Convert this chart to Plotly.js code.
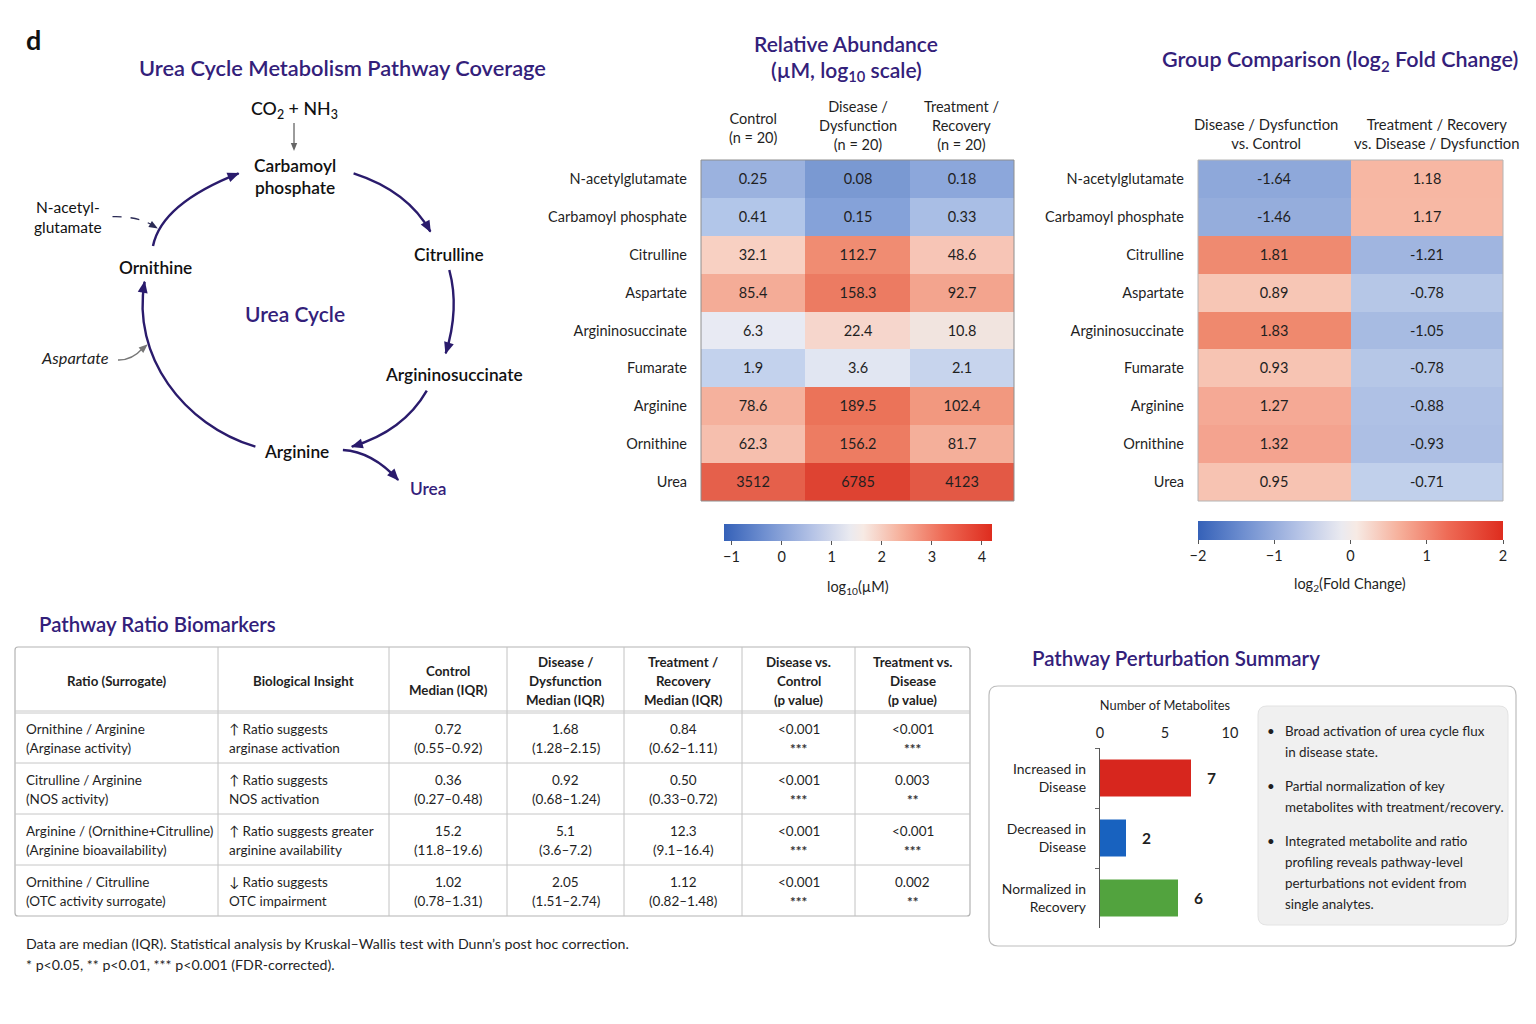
<!DOCTYPE html>
<html><head><meta charset="utf-8">
<script src="https://cdn.plot.ly/plotly-3.0.1.min.js"></script>
<style>html,body{margin:0;padding:0;background:#fff;}#chart{width:1536px;height:1024px;}</style>
</head><body><div id="chart"></div>
<script>
// ---------------- DATA ----------------
const metabolites = ['N-acetylglutamate','Carbamoyl phosphate','Citrulline','Aspartate','Argininosuccinate','Fumarate','Arginine','Ornithine','Urea'];
const groupKeys = ['Control','Disease','Treatment'];
const groupHeaders = ['Control<br>(n = 20)','Disease /<br>Dysfunction<br>(n = 20)','Treatment /<br>Recovery<br>(n = 20)'];
const controlUM   = [0.25, 0.41, 32.1, 85.4, 6.3, 1.9, 78.6, 62.3, 3512];
const diseaseUM   = [0.08, 0.15, 112.7, 158.3, 22.4, 3.6, 189.5, 156.2, 6785];
const treatmentUM = [0.18, 0.33, 48.6, 92.7, 10.8, 2.1, 102.4, 81.7, 4123];

const fcKeys = ['DvsC','TvsD'];
const fcHeaders = ['Disease / Dysfunction<br>vs. Control','Treatment / Recovery<br>vs. Disease / Dysfunction'];
const fcDiseaseVsControl = [-1.64, -1.46, 1.81, 0.89, 1.83, 0.93, 1.27, 1.32, 0.95];
const fcTreatVsDisease   = [1.18, 1.17, -1.21, -0.78, -1.05, -0.78, -0.88, -0.93, -0.71];

const tableHeaders = ['Ratio (Surrogate)','Biological Insight','Control<br>Median (IQR)','Disease /<br>Dysfunction<br>Median (IQR)','Treatment /<br>Recovery<br>Median (IQR)','Disease vs.<br>Control<br>(p value)','Treatment vs.<br>Disease<br>(p value)'];
const ratioNames = ['Ornithine / Arginine','Citrulline / Arginine','Arginine / (Ornithine+Citrulline)','Ornithine / Citrulline'];
const ratioSurrogates = ['Arginase activity','NOS activity','Arginine bioavailability','OTC activity surrogate'];
const insightLine1 = ['↑ Ratio suggests','↑ Ratio suggests','↑ Ratio suggests greater','↓ Ratio suggests'];
const insightLine2 = ['arginase activation','NOS activation','arginine availability','OTC impairment'];
const controlMedian = ['0.72','0.36','15.2','1.02'];
const controlIQR    = ['0.55–0.92','0.27–0.48','11.8–19.6','0.78–1.31'];
const diseaseMedian = ['1.68','0.92','5.1','2.05'];
const diseaseIQR    = ['1.28–2.15','0.68–1.24','3.6–7.2','1.51–2.74'];
const treatMedian   = ['0.84','0.50','12.3','1.12'];
const treatIQR      = ['0.62–1.11','0.33–0.72','9.1–16.4','0.82–1.48'];
const pDiseaseVsControl = ['<0.001','<0.001','<0.001','<0.001'];
const starsDiseaseVsControl = ['***','***','***','***'];
const pTreatVsDisease = ['<0.001','0.003','<0.001','0.002'];
const starsTreatVsDisease = ['***','**','***','**'];

const summaryCats = ['Increased in<br>Disease','Decreased in<br>Disease','Normalized in<br>Recovery'];
const summaryCounts = [7, 2, 6];
const summaryColors = ['#d7261e','#1862bf','#52a33e'];
const summaryBullets = [
  ['Broad activation of urea cycle flux','in disease state.'],
  ['Partial normalization of key','metabolites with treatment/recovery.'],
  ['Integrated metabolite and ratio','profiling reveals pathway-level','perturbations not evident from','single analytes.']
];

// ---------------- HELPERS ----------------
const W = 1536, H = 1024;
const X = v => v / W, Y = v => 1 - v / H;
const FONT = 'Lato, "Noto Sans", sans-serif';
const PURPLE = '#33207a';
const INK = '#2a1b6c';
const TXT = '#1f1f1f';

function toPath(segs) {
  return segs.map(s => {
    let out = s[0];
    const n = s.slice(1);
    for (let i = 0; i < n.length; i += 2) out += (i ? ' ' : '') + X(n[i]).toFixed(5) + ',' + Y(n[i + 1]).toFixed(5);
    return out;
  }).join(' ');
}
function arrowHead(tip, from, len, hw, color) {
  let dx = tip[0] - from[0], dy = tip[1] - from[1];
  const L = Math.hypot(dx, dy); dx /= L; dy /= L;
  const bx = tip[0] - dx * len, by = tip[1] - dy * len;
  const px = -dy, py = dx;
  return {type: 'path', xref: 'paper', yref: 'paper', layer: 'above',
    path: toPath([['M', tip[0] + dx, tip[1] + dy], ['L', bx + px * hw, by + py * hw], ['L', bx - px * hw, by - py * hw], ['Z']]),
    fillcolor: color, line: {width: 0}};
}
function curve(segs, color, width, dash) {
  return {type: 'path', xref: 'paper', yref: 'paper', layer: 'above', path: toPath(segs),
    line: {color: color, width: width, dash: dash || 'solid'}};
}
function hline(x0, x1, y, color, w) {
  return {type: 'line', xref: 'paper', yref: 'paper', x0: X(x0), x1: X(x1), y0: Y(y), y1: Y(y), line: {color: color, width: w}, layer: 'above'};
}
function vline(x, y0, y1, color, w) {
  return {type: 'line', xref: 'paper', yref: 'paper', x0: X(x), x1: X(x), y0: Y(y0), y1: Y(y1), line: {color: color, width: w}, layer: 'above'};
}
function roundRect(x0, y0, x1, y1, r, line, fill, lw) {
  return {type: 'path', xref: 'paper', yref: 'paper', layer: 'below',
    path: toPath([['M', x0 + r, y0], ['L', x1 - r, y0], ['Q', x1, y0, x1, y0 + r], ['L', x1, y1 - r], ['Q', x1, y1, x1 - r, y1],
      ['L', x0 + r, y1], ['Q', x0, y1, x0, y1 - r], ['L', x0, y0 + r], ['Q', x0, y0, x0 + r, y0], ['Z']]),
    line: {color: line, width: lw}, fillcolor: fill};
}
function txt(x, y, text, opts) {
  opts = opts || {};
  return {xref: 'paper', yref: 'paper', x: X(x), y: Y(y), text: text, showarrow: false,
    xanchor: opts.xanchor || 'center', yanchor: 'middle',
    font: {family: FONT, size: opts.size || 14, color: opts.color || TXT, weight: opts.weight || 400, style: opts.style || 'normal'}};
}

// ---------------- HEATMAP MATRICES ----------------
const abundanceZ = metabolites.map((m, i) => [controlUM[i], diseaseUM[i], treatmentUM[i]].map(v => Math.log10(v)));
const abundanceT = metabolites.map((m, i) => [controlUM[i], diseaseUM[i], treatmentUM[i]].map(v => String(v)));
const fcZ = metabolites.map((m, i) => [fcDiseaseVsControl[i], fcTreatVsDisease[i]]);
const fcT = metabolites.map((m, i) => [fcDiseaseVsControl[i], fcTreatVsDisease[i]].map(v => v.toFixed(2)));

const cellScale1 = [[0,'#7897d1'],[0.065,'#86a3d9'],[0.103,'#9bb2df'],[0.14,'#b2c6e9'],[0.271,'#c4d2ed'],[0.32,'#e2e6f2'],[0.364,'#e8eaf3'],[0.402,'#f1e5e1'],[0.495,'#f8d0c3'],[0.551,'#f6bfae'],[0.579,'#f4aa94'],[0.598,'#f08c72'],[0.645,'#ea7057'],[0.878,'#e5604b'],[0.935,'#de4130'],[1,'#d83a2a']];
const cellScale2 = [[0,'#7b99d4'],[0.09,'#8ea8da'],[0.2,'#a0b5e0'],[0.3,'#b3c4e6'],[0.325,'#c3d1ec'],[0.5,'#f4f1f0'],[0.72,'#f7c6b6'],[0.8,'#f7b6a2'],[0.825,'#f4a490'],[0.955,'#ef8a6f'],[1,'#ec7a5f']];
const barScale = [[0,'#3561b8'],[0.15,'#6f8fd0'],[0.33,'#b5c3e6'],[0.47,'#eaeaf0'],[0.52,'#f7eae4'],[0.66,'#f6b09b'],[0.82,'#ee6a55'],[1,'#de2c1e']];
const Z1MIN = -1.15, Z1MAX = 4.2;

const cbCommon = {orientation: 'h', xanchor: 'center', yanchor: 'top', lenmode: 'pixels', thicknessmode: 'pixels',
  xpad: 0, ypad: 0, outlinewidth: 0, ticks: 'outside', ticklen: 4, tickcolor: '#555',
  tickfont: {family: FONT, size: 14.5, color: TXT}};

const traces = [
  {type: 'heatmap', x: groupKeys, y: metabolites, z: abundanceZ, text: abundanceT, texttemplate: '%{text}',
   textfont: {family: FONT, size: 14.5, color: TXT}, colorscale: cellScale1, zmin: Z1MIN, zmax: Z1MAX,
   showscale: false, xaxis: 'x', yaxis: 'y', hoverinfo: 'skip'},
  {type: 'scatter', mode: 'markers', x: [groupKeys[0]], y: [metabolites[0]], xaxis: 'x', yaxis: 'y', hoverinfo: 'skip', showlegend: false,
   marker: {size: 1, opacity: 0, color: [0], cmin: Z1MIN, cmax: Z1MAX, colorscale: barScale, showscale: true,
     colorbar: Object.assign({}, cbCommon, {x: X(858), y: Y(524), len: 268, thickness: 17, tickvals: [-1, 0, 1, 2, 3, 4]})}},
  {type: 'heatmap', x: fcKeys, y: metabolites, z: fcZ, text: fcT, texttemplate: '%{text}',
   textfont: {family: FONT, size: 14.5, color: TXT}, colorscale: cellScale2, zmin: -2, zmax: 2,
   showscale: false, xaxis: 'x2', yaxis: 'y2', hoverinfo: 'skip'},
  {type: 'scatter', mode: 'markers', x: [fcKeys[0]], y: [metabolites[0]], xaxis: 'x2', yaxis: 'y2', hoverinfo: 'skip', showlegend: false,
   marker: {size: 1, opacity: 0, color: [0], cmin: -2, cmax: 2, colorscale: barScale, showscale: true,
     colorbar: Object.assign({}, cbCommon, {x: X(1350.5), y: Y(521), len: 305, thickness: 19, tickvals: [-2, -1, 0, 1, 2]})}},
  {type: 'bar', orientation: 'h', y: summaryCats, x: summaryCounts, width: 0.62, xaxis: 'x3', yaxis: 'y3',
   marker: {color: summaryColors, line: {width: 0}}, hoverinfo: 'skip', showlegend: false}
];

// ---------------- LAYOUT ----------------
const shapes = [];
const annotations = [];

annotations.push(txt(33, 39, '<b>d</b>', {size: 27, color: '#111'}));
annotations.push(txt(342, 67, 'Urea Cycle Metabolism Pathway Coverage', {size: 21.8, color: PURPLE, weight: 600}));
annotations.push(txt(846, 43, 'Relative Abundance', {size: 21, color: PURPLE, weight: 600}));
annotations.push(txt(846, 71, '(µM, log<sub>10</sub> scale)', {size: 21, color: PURPLE, weight: 600}));
annotations.push(txt(1340, 60, 'Group Comparison (log<sub>2</sub> Fold Change)', {size: 21.5, color: PURPLE, weight: 600}));
annotations.push(txt(37, 624, 'Pathway Ratio Biomarkers', {size: 20.4, color: PURPLE, weight: 600, xanchor: 'left'}));
annotations.push(txt(1030, 658, 'Pathway Perturbation Summary', {size: 20.5, color: PURPLE, weight: 600, xanchor: 'left'}));

groupKeys.forEach((g, i) => annotations.push({xref: 'x', yref: 'paper', x: g, y: Y(i === 0 ? 128 : 125), text: groupHeaders[i],
  showarrow: false, xanchor: 'center', yanchor: 'middle', font: {family: FONT, size: 14.5, color: TXT}}));
const fcHeaderShift = [-8, 10];
fcKeys.forEach((g, i) => annotations.push({xref: 'x2', yref: 'paper', x: g, y: Y(133), text: fcHeaders[i], xshift: fcHeaderShift[i],
  showarrow: false, xanchor: 'center', yanchor: 'middle', font: {family: FONT, size: 14.8, color: TXT}}));

annotations.push(txt(858, 587, 'log<sub>10</sub>(µM)', {size: 14.5}));
annotations.push(txt(1350, 584, 'log<sub>2</sub>(Fold Change)', {size: 14.5}));

shapes.push({type: 'rect', xref: 'x domain', yref: 'y domain', x0: 0, x1: 1, y0: 0, y1: 1, line: {color: '#8e8e8e', width: 1}, layer: 'above'});
shapes.push({type: 'rect', xref: 'x2 domain', yref: 'y2 domain', x0: 0, x1: 1, y0: 0, y1: 1, line: {color: '#b4b4b4', width: 1}, layer: 'above'});

// Urea-cycle diagram
const arcs = [
  [[153, 246], [161.4, 203.7], [238.6, 173.3]],
  [[353.6, 173.3], [408, 190.9], [430.4, 231.7]],
  [[449.3, 270], [459.7, 308.4], [445.7, 353.3]],
  [[426.8, 390.7], [403.5, 431.3], [351.8, 446.7]],
  [[342.9, 450], [372.3, 451.6], [398.2, 480]]
];
arcs.forEach(a => {
  shapes.push(curve([['M', a[0][0], a[0][1]], ['Q', a[1][0], a[1][1], a[2][0], a[2][1]]], INK, 2.4));
  shapes.push(arrowHead(a[2], a[1], 11, 5, INK));
});
shapes.push(curve([['M', 255.4, 446.7], ['C', 183.3, 425, 131.5, 355.8, 144.6, 281.7]], INK, 2.4));
shapes.push(arrowHead([144.6, 281.7], [131.5, 355.8], 11, 5, INK));
shapes.push(curve([['M', 294, 123], ['L', 294, 146]], '#666', 1.3));
shapes.push(arrowHead([294, 150], [294, 123], 7, 3.2, '#666'));
shapes.push(curve([['M', 112.5, 216.7], ['Q', 137, 216, 153, 225.5]], '#2b2b55', 1.3, 'dash'));
shapes.push(arrowHead([157, 228], [137, 216], 8, 3.5, '#2b2b55'));
shapes.push(curve([['M', 118, 360], ['Q', 132, 360.4, 143, 348]], '#777', 1.3));
shapes.push(arrowHead([147, 345], [132, 358], 8, 3.5, '#777'));

annotations.push(txt(294.6, 109, 'CO<sub>2</sub> + NH<sub>3</sub>', {size: 17.8, color: '#111', weight: 500}));
annotations.push(txt(294.6, 176, 'Carbamoyl<br>phosphate', {size: 17.3, color: '#111', weight: 600}));
annotations.push(txt(68, 217, 'N-acetyl-<br>glutamate', {size: 15.5, color: '#111'}));
annotations.push(txt(155.4, 267.5, 'Ornithine', {size: 17.3, color: '#111', weight: 600}));
annotations.push(txt(449.3, 254, 'Citrulline', {size: 17.3, color: '#111', weight: 600}));
annotations.push(txt(294.6, 313, 'Urea Cycle', {size: 21, color: PURPLE, weight: 600}));
annotations.push(txt(453.6, 374, 'Argininosuccinate', {size: 17.3, color: '#111', weight: 600}));
annotations.push(txt(296.4, 451, 'Arginine', {size: 17.3, color: '#111', weight: 600}));
annotations.push(txt(427.5, 488, 'Urea', {size: 17.3, color: PURPLE, weight: 600}));
annotations.push(txt(75, 357.5, 'Aspartate', {size: 16.3, color: '#222', style: 'italic'}));

// ---------------- TABLE (cells laid out from column widths) ----------------
const tableLeft = 15, tableTop = 647, headerH = 65, rowH = 51;
const colWidths = [203, 171, 118, 117, 118, 113, 115];
const colEdges = colWidths.reduce((acc, w) => { acc.push(acc[acc.length - 1] + w); return acc; }, [tableLeft]);
const tableRight = colEdges[colEdges.length - 1];
const tableBottom = tableTop + headerH + rowH * ratioNames.length;
shapes.push(roundRect(tableLeft, tableTop, tableRight, tableBottom, 3, '#b3b3b3', '#ffffff', 1.2));
for (let c = 1; c < colEdges.length - 1; c++) shapes.push(vline(colEdges[c], tableTop, tableBottom, '#c2c2c2', 1));
shapes.push(hline(tableLeft, tableRight, tableTop + headerH - 1, '#c8c8c8', 1));
shapes.push(hline(tableLeft, tableRight, tableTop + headerH + 1, '#c8c8c8', 1));
for (let r = 1; r < ratioNames.length; r++) shapes.push(hline(tableLeft, tableRight, tableTop + headerH + r * rowH, '#c6c6c6', 1));

tableHeaders.forEach((h, c) => {
  const lines = h.split('<br>');
  const cx = (colEdges[c] + colEdges[c + 1]) / 2, cy = tableTop + headerH / 2 + 1;
  lines.forEach((l, k) => annotations.push(txt(cx, cy + (k - (lines.length - 1) / 2) * 19, '<b>' + l + '</b>', {size: 13.3})));
});
const bodyCols = [
  [ratioNames, ratioSurrogates.map(s => '(' + s + ')'), 'left'],
  [insightLine1, insightLine2, 'left'],
  [controlMedian, controlIQR.map(s => '(' + s + ')'), 'center'],
  [diseaseMedian, diseaseIQR.map(s => '(' + s + ')'), 'center'],
  [treatMedian, treatIQR.map(s => '(' + s + ')'), 'center'],
  [pDiseaseVsControl, starsDiseaseVsControl, 'stars'],
  [pTreatVsDisease, starsTreatVsDisease, 'stars']
];
ratioNames.forEach((_, r) => {
  const top = tableTop + headerH + r * rowH;
  bodyCols.forEach((col, c) => {
    const left = col[2] === 'left';
    const x = left ? colEdges[c] + 9 : (colEdges[c] + colEdges[c + 1]) / 2;
    const xa = left ? 'left' : 'center';
    annotations.push(txt(x, top + 17, col[0][r], {size: 13.5, xanchor: xa}));
    if (col[2] === 'stars') annotations.push(txt(x, top + 37, '<b>' + col[1][r] + '</b>', {size: 13.5, xanchor: xa, color: '#333'}));
    else annotations.push(txt(x, top + 36, col[1][r], {size: 13.5, xanchor: xa}));
  });
});

annotations.push(txt(24, 943, 'Data are median (IQR). Statistical analysis by Kruskal–Wallis test with Dunn’s post hoc correction.', {size: 14.2, xanchor: 'left'}));
annotations.push(txt(24, 964, '* p<0.05, ** p<0.01, *** p<0.001 (FDR-corrected).', {size: 14.2, xanchor: 'left'}));

// Summary panel
shapes.push(roundRect(989, 686, 1516, 946, 9, '#bdbdbd', 'rgba(255,255,255,0)', 1.2));
shapes.push(roundRect(1258, 706, 1508, 925, 9, '#e3e3e3', '#f0f0f0', 1));
let by = 731;
summaryBullets.forEach(lines => {
  annotations.push(txt(1271, by, '•', {size: 13.3, xanchor: 'center'}));
  lines.forEach((l, k) => annotations.push(txt(1283, by + k * 21, l, {size: 13.4, xanchor: 'left'})));
  by += lines.length * 21 + 13;
});
summaryCats.forEach((c, i) => annotations.push({xref: 'x3', yref: 'y3', x: summaryCounts[i], y: c, text: '<b>' + summaryCounts[i] + '</b>',
  xshift: 20, showarrow: false, xanchor: 'center', yanchor: 'middle', font: {family: FONT, size: 15.5, color: TXT}}));

const layout = {
  width: W, height: H, margin: {l: 0, r: 0, t: 0, b: 0},
  paper_bgcolor: '#ffffff', plot_bgcolor: 'rgba(0,0,0,0)', showlegend: false,
  font: {family: FONT, color: TXT},
  xaxis: {domain: [X(701), X(1014)], anchor: 'y', range: [-0.5, 2.5], showticklabels: false, ticks: '', showgrid: false, zeroline: false},
  yaxis: {domain: [Y(501), Y(160)], anchor: 'x', range: [8.5, -0.5], ticks: '', showgrid: false, zeroline: false,
    ticklabelstandoff: 13, tickfont: {family: FONT, size: 14.5, color: TXT}},
  xaxis2: {domain: [X(1198), X(1503)], anchor: 'y2', range: [-0.5, 1.5], showticklabels: false, ticks: '', showgrid: false, zeroline: false},
  yaxis2: {domain: [Y(501), Y(160)], anchor: 'x2', range: [8.5, -0.5], ticks: '', showgrid: false, zeroline: false,
    ticklabelstandoff: 13, tickfont: {family: FONT, size: 14.5, color: TXT}},
  xaxis3: {domain: [X(1100), X(1230)], anchor: 'y3', side: 'top', range: [0, 10], tickvals: [0, 5, 10], ticks: '',
    showgrid: false, zeroline: false, showline: false, ticklabelstandoff: 6, tickfont: {family: FONT, size: 14.5, color: TXT},
    title: {text: 'Number of Metabolites', standoff: 10, font: {family: FONT, size: 12.8, color: TXT}}},
  yaxis3: {domain: [Y(928), Y(748)], anchor: 'x3', autorange: 'reversed', showline: true, linecolor: '#555', linewidth: 1.2,
    ticks: 'outside', ticklen: 4, tickcolor: '#666', tickson: 'boundaries', showgrid: false, zeroline: false,
    ticklabelstandoff: 10, tickfont: {family: FONT, size: 13.9, color: TXT}},
  shapes: shapes, annotations: annotations
};

Plotly.newPlot('chart', traces, layout, {displayModeBar: false, staticPlot: true});
</script></body></html>
